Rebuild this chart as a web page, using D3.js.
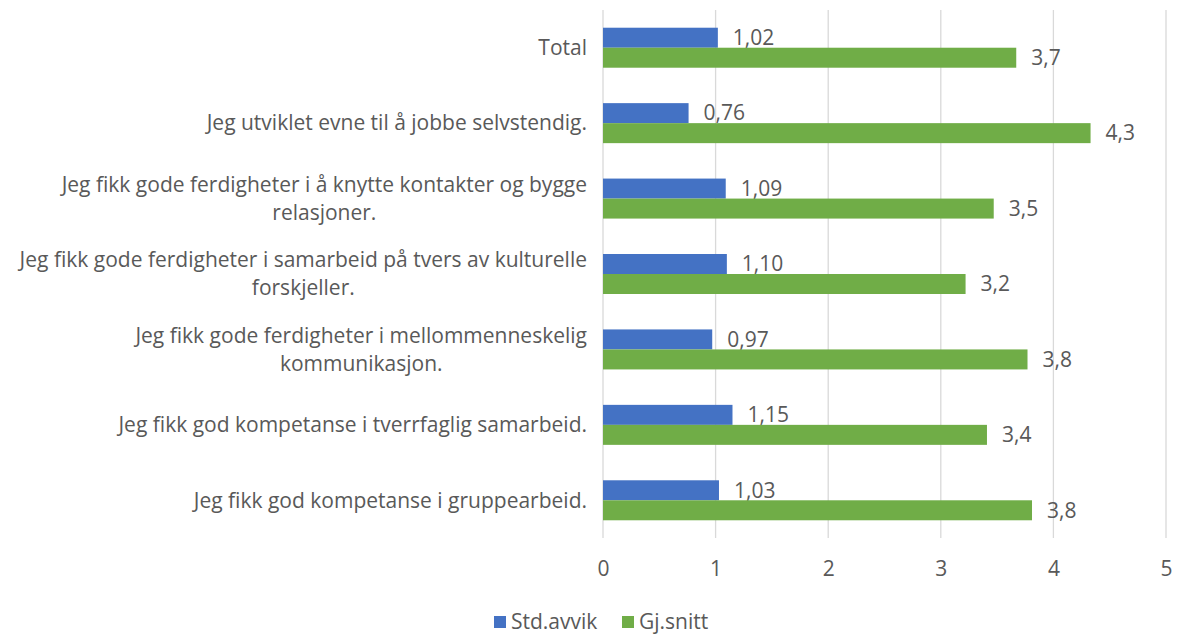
<!DOCTYPE html>
<html>
<head>
<meta charset="utf-8">
<script src="https://cdn.jsdelivr.net/npm/d3@7"></script>
<style>
  body { margin: 0; background: #fff; }
  text { font-family: "Open Sans", Lato, sans-serif; fill: #595959; }
</style>
</head>
<body>
<div id="chart"></div>
<script>
// categories, top to bottom, each split into lines as in the chart
const categories = [
  ['Total'],
  ['Jeg utviklet evne til å jobbe selvstendig.'],
  ['Jeg fikk gode ferdigheter i å knytte kontakter og bygge', 'relasjoner.'],
  ['Jeg fikk gode ferdigheter i samarbeid på tvers av kulturelle', 'forskjeller.'],
  ['Jeg fikk gode ferdigheter i mellommenneskelig', 'kommunikasjon.'],
  ['Jeg fikk god kompetanse i tverrfaglig samarbeid.'],
  ['Jeg fikk god kompetanse i gruppearbeid.']
];
// bar lengths; labels as printed
const stdAvvik = [1.02, 0.76, 1.09, 1.10, 0.97, 1.15, 1.03];
const gjSnitt = [3.67, 4.33, 3.47, 3.22, 3.77, 3.41, 3.81];
const stdLabels = ['1,02', '0,76', '1,09', '1,10', '0,97', '1,15', '1,03'];
const gjLabels = ['3,7', '4,3', '3,5', '3,2', '3,8', '3,4', '3,8'];
const xTicks = [0, 1, 2, 3, 4, 5];

const series = [
  { name: 'Std.avvik', values: stdAvvik, labels: stdLabels, color: '#4472C4' },
  { name: 'Gj.snitt', values: gjSnitt, labels: gjLabels, color: '#70AD47' }
];

const W = 1178, H = 634;
const margin = { left: 603, top: 10, right: 12, bottom: 96 };
const width = W - margin.left - margin.right;
const height = H - margin.top - margin.bottom;
const fontSize = '21px';

const svg = d3.select('#chart').append('svg')
  .attr('width', W)
  .attr('height', H);

const g = svg.append('g')
  .attr('transform', 'translate(' + margin.left + ',' + margin.top + ')');

const x = d3.scaleLinear().domain([0, 5]).range([0, width]);
const y = d3.scaleBand().domain(d3.range(categories.length)).range([0, height]);
const barH = 20;

// gridlines
g.selectAll('line.grid')
  .data(xTicks)
  .enter().append('line')
  .attr('class', 'grid')
  .attr('x1', d => x(d)).attr('x2', d => x(d))
  .attr('y1', 0).attr('y2', height)
  .attr('stroke', '#D9D9D9')
  .attr('stroke-width', 1.3);

// x axis tick labels
const xAxis = g.append('g')
  .attr('transform', 'translate(0,' + height + ')')
  .call(d3.axisBottom(x).tickValues(xTicks).tickSize(0).tickPadding(23).tickFormat(d3.format('d')));
xAxis.select('.domain').remove();
xAxis.selectAll('text')
  .style('font-family', '"Open Sans", Lato, sans-serif')
  .style('font-size', fontSize)
  .attr('fill', '#595959');

// bars
series.forEach((s, si) => {
  const top = i => y(i) + y.bandwidth() / 2 - barH + si * barH;
  g.selectAll('rect.s' + si)
    .data(s.values)
    .enter().append('rect')
    .attr('class', 's' + si)
    .attr('x', 0)
    .attr('y', (d, i) => top(i))
    .attr('width', d => x(d))
    .attr('height', barH)
    .attr('fill', s.color);

  g.selectAll('text.l' + si)
    .data(s.values)
    .enter().append('text')
    .attr('class', 'l' + si)
    .attr('x', d => x(d) + 15)
    .attr('y', (d, i) => top(i) + barH / 2)
    .attr('dy', '0.35em')
    .style('font-size', fontSize)
    .text((d, i) => s.labels[i]);
});

// category labels: lines centered on each other, block right-aligned
categories.forEach((lines, i) => {
  const lineH = 28;
  const cy = y(i) + y.bandwidth() / 2;
  const tmp = g.append('text').style('font-size', fontSize);
  const widths = lines.map(l => { tmp.text(l); return tmp.node().getComputedTextLength(); });
  tmp.remove();
  const maxW = d3.max(widths);
  const cx = -16 - maxW / 2;
  lines.forEach((l, j) => {
    g.append('text')
      .attr('x', cx)
      .attr('y', cy + (j - (lines.length - 1) / 2) * lineH)
      .attr('dy', '0.35em')
      .attr('text-anchor', 'middle')
      .style('font-size', fontSize)
      .text(l);
  });
});

// legend
const legend = svg.append('g').attr('transform', 'translate(494,616)');
const items = legend.selectAll('g')
  .data(series)
  .enter().append('g')
  .attr('transform', (d, i) => 'translate(' + (i * 128) + ',0)');
items.append('rect')
  .attr('width', 12).attr('height', 12)
  .attr('fill', d => d.color);
items.append('text')
  .attr('x', 17).attr('y', 6)
  .attr('dy', '0.35em')
  .style('font-size', fontSize)
  .text(d => d.name);
</script>
</body>
</html>
